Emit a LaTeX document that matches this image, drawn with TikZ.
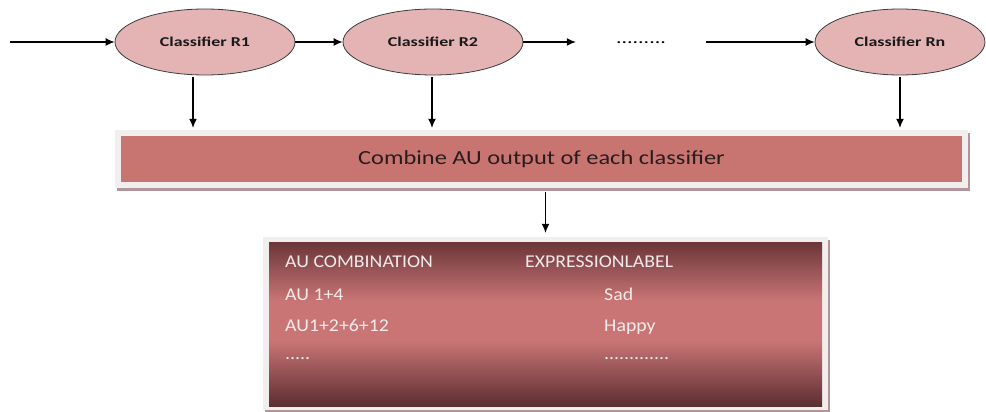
\documentclass[tikz,border=0pt]{standalone}
\usepackage{fontspec}
\setmainfont{Carlito}
\newfontfamily\ellfont[FakeStretch=1.33]{Carlito}
\newfontfamily\combfont[FakeStretch=1.22]{Carlito}
\newfontfamily\tabfont[FakeStretch=1.1]{Carlito}
\usetikzlibrary{shapes.geometric,arrows.meta,shadows}
\definecolor{ellfill}{RGB}{228,180,180}
\definecolor{ellline}{RGB}{60,60,60}
\definecolor{combred}{RGB}{200,117,114}
\definecolor{combtext}{RGB}{40,28,28}
\definecolor{framec}{RGB}{243,238,238}
\definecolor{shadowc}{RGB}{178,148,154}
\definecolor{tabdark}{RGB}{106,54,58}
\definecolor{tablight}{RGB}{202,117,117}
\definecolor{tabdark2}{RGB}{92,46,50}
\definecolor{tabtextc}{RGB}{242,234,234}
\pgfdeclareverticalshading{tabshade}{100bp}{color(0bp)=(tabdark2); color(25bp)=(tabdark2); color(45bp)=(tablight); color(57bp)=(tablight); color(75bp)=(tabdark); color(100bp)=(tabdark)}
\begin{document}
\begin{tikzpicture}[x=1pt,y=-1pt,
  arr/.style={-{Latex[length=9pt,width=8pt]}, line width=1.2pt, black},
  clsnode/.style={ellipse, draw=ellline, line width=0.8pt, fill=ellfill,
    minimum width=180pt, minimum height=66pt, inner sep=0pt,
    font=\ellfont\bfseries\fontsize{13.5pt}{16pt}\selectfont, text=black!90},
  framebox/.style={fill=framec, inner sep=0pt,
    drop shadow={shadow xshift=2pt, shadow yshift=-3pt, fill=shadowc, opacity=1}},
  tabtext/.style={anchor=base west, inner sep=0pt, text=tabtextc,
    font=\tabfont\fontsize{18pt}{21pt}\selectfont}
]
\useasboundingbox (0,0) rectangle (986,412);

% classifiers
\node[clsnode] (r1) at (205,42) {Classifier R1};
\node[clsnode] (r2) at (433,42) {Classifier R2};
\node[clsnode, minimum width=170pt] (rn) at (900,42) {Classifier Rn};
\node[inner sep=0pt, minimum width=130pt, font=\ellfont\fontsize{16.5pt}{18pt}\selectfont] (dots) at (641,43) {.........};
\coordinate (in) at (10,42);

\draw[arr] (in) -- (r1);
\draw[arr] (r1) -- (r2);
\draw[arr] (r2) -- (dots.west |- r2.east);
\draw[arr] (dots.east |- rn.west) -- (rn);

% combine box
\node[framebox, minimum width=853pt, minimum height=58pt] (combfr) at (541.5,159) {};
\node[fill=combred, minimum width=841pt, minimum height=46pt, inner sep=0pt,
  font=\combfont\fontsize{20pt}{24pt}\selectfont, text=combtext] (comb) at (541.5,159)
  {Combine AU output of each classifier};

\coordinate (r1o) at ([xshift=-12pt]r1.south);
\coordinate (r2o) at ([xshift=-1pt]r2.south);
\coordinate (rno) at (rn.south);
\draw[arr, shorten <=2pt, shorten >=2pt] (r1o) -- (r1o |- combfr.north);
\draw[arr, shorten <=2pt, shorten >=2pt] (r2o) -- (r2o |- combfr.north);
\draw[arr, shorten <=2pt, shorten >=2pt] (rno) -- (rno |- combfr.north);

% table
\node[framebox, minimum width=565pt, minimum height=173pt] (tabfr) at (545.5,323.5) {};
\node[inner sep=0pt, minimum width=553pt, minimum height=164pt, shading=tabshade] (tab) at (545.5,324) {};

\draw[arr, shorten <=4pt, shorten >=4pt] (tab.north |- combfr.south) -- (tabfr.north);

\node[tabtext] (h1) at (285,267) {AU COMBINATION};
\node[tabtext] (h2) at (525,267) {EXPRESSIONLABEL};
\node[tabtext] (a1) at (285,300) {AU 1+4};
\node[tabtext] (b1) at (604,300) {Sad};
\node[tabtext] (a2) at (285,331) {AU1+2+6+12};
\node[tabtext] (b2) at (604,331) {Happy};
\node[tabtext] (a3) at (285,359) {.....};
\node[tabtext] (b3) at (604,359) {.............};
\end{tikzpicture}
\end{document}
